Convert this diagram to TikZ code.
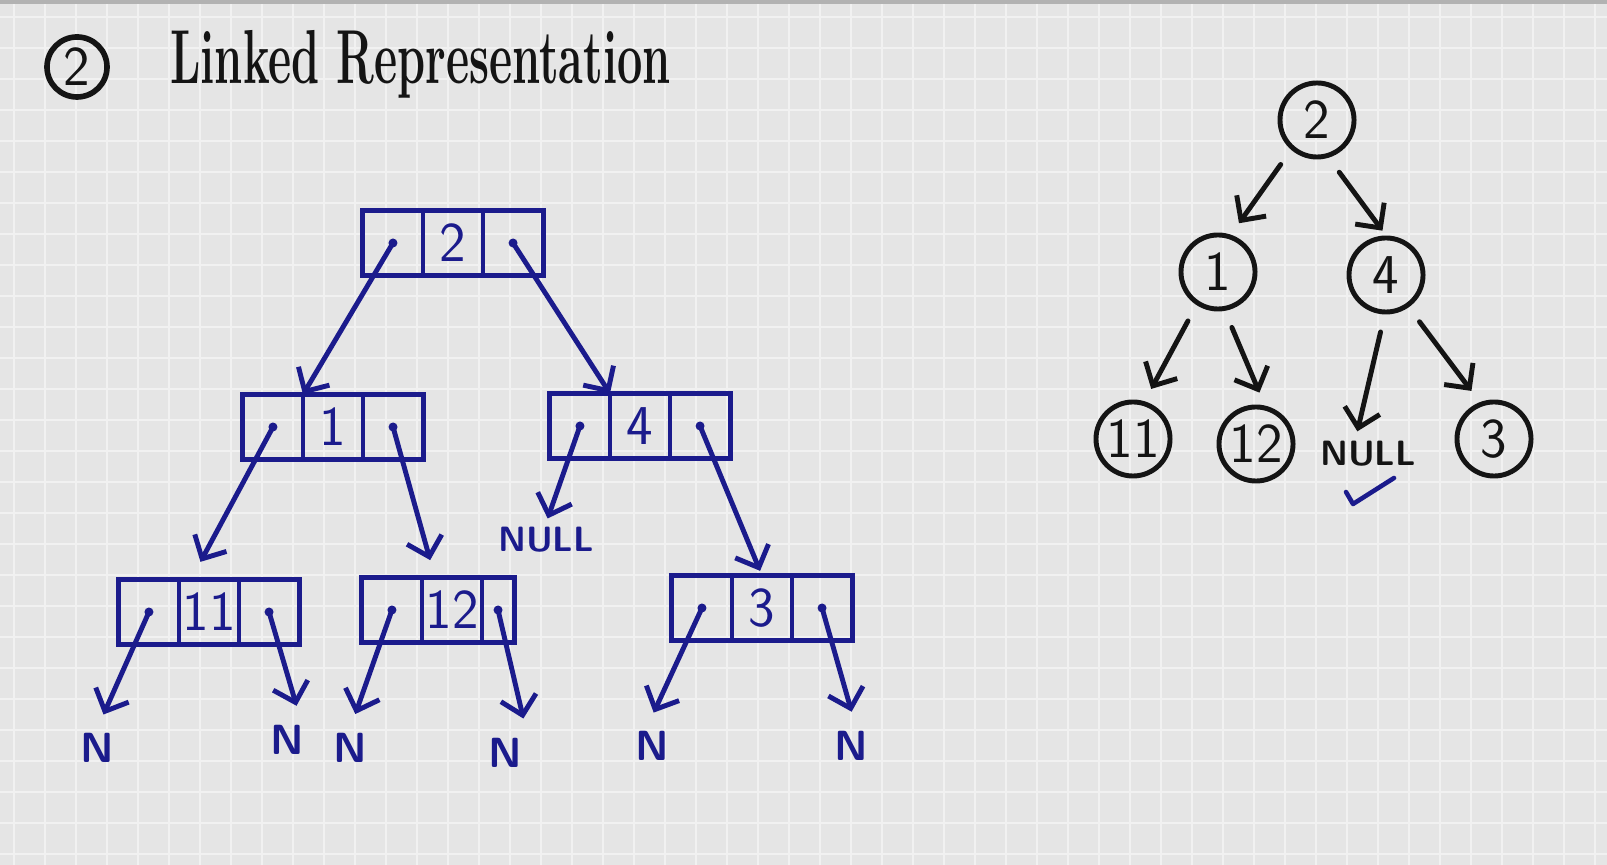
\documentclass[tikz,border=0pt]{standalone}
\usetikzlibrary{arrows.meta,positioning,calc}
\definecolor{InkBlue}{HTML}{1B1B8C}
\definecolor{InkBlack}{HTML}{141414}
\definecolor{Board}{HTML}{E5E5E5}
\definecolor{BoardLine}{HTML}{F1F1F1}
\tikzset{
  cell/.style={rectangle, draw=InkBlue, line width=1.4pt, outer sep=0pt,
               minimum width=0.6cm, minimum height=0.65cm, inner sep=0pt,
               text=InkBlue, font=\sffamily\fontsize{16}{16}\selectfont},
  ptr/.style={draw=InkBlue, line width=1.4pt, line cap=round,
              -{Straight Barb[length=1.8mm,width=3.6mm]}},
  nil/.style={text=InkBlue, font=\sffamily\bfseries\fontsize{12}{12}\selectfont, inner sep=1pt},
  pdot/.style={circle, fill=InkBlue, inner sep=0pt, minimum size=0.9mm},
  tnode/.style={circle, draw=InkBlack, line width=1.4pt, minimum size=0.74cm,
                inner sep=0pt, text=InkBlack, font=\sffamily\fontsize{16}{16}\selectfont},
  tedge/.style={draw=InkBlack, line width=1.4pt, line cap=round,
                -{Straight Barb[length=1.8mm,width=3.6mm]},
                shorten <=1.8mm, shorten >=1.4mm},
}

\begin{document}
\begin{tikzpicture}[x=0.01cm, y=-0.01cm]
% ---------- board
\useasboundingbox (0,0) rectangle (1607,865);
\fill[Board] (0,0) rectangle (1607,865);
\foreach \gx in {14,45,...,1607} \draw[BoardLine, line width=0.6pt] (\gx,0) -- (\gx,865);
\foreach \gy in {17,48,...,865} \draw[BoardLine, line width=0.6pt] (0,\gy) -- (1607,\gy);
\fill[black!30] (0,0) rectangle (1607,4);
% ---------- title
\node[tnode, minimum size=0.6cm, line width=1.6pt] (num) at (77,67) {2};
\node[anchor=west, text=InkBlack, font=\bfseries\fontsize{12.8}{12.8}\selectfont] (title) at (158,64)
  {\scalebox{1}[1.7]{Linked Representation}};
% ---------- linked nodes: left pointer | data | right pointer
\foreach \nm/\x/\y/\v/\rw in {root/453/243/2/0.6cm, n1/333/427/1/0.6cm, n4/640/426/4/0.6cm,
                              n11/209/612/11/0.6cm, n12/452/610/12/0.32cm, n3/762/608/3/0.6cm}{
  \node[cell] (\nm) at (\x,\y) {\v};
  \node[cell, left=0pt of \nm] (\nm-l) {};
  \node[cell, right=0pt of \nm, minimum width=\rw] (\nm-r) {};
  \node[pdot] at (\nm-l.center) {};
  \node[pdot] at (\nm-r.center) {};
}
% null ends
\node[nil, font=\sffamily\bfseries\fontsize{10}{10}\selectfont] (null4) at (546,540) {NULL};
\node[nil] (na) at (97,748) {N};
\node[nil] (nb) at (287,740) {N};
\node[nil] (nc) at (350,748) {N};
\node[nil] (nd) at (505,753) {N};
\node[nil] (ne) at (652,746) {N};
\node[nil] (nf) at (851,746) {N};
% links
\draw[ptr] (root-l.center) -- (n1-l.north east);
\draw[ptr] (root-r.center) -- (n4-l.north east);
\draw[ptr, shorten >=2mm] (n1-l.center) -- ([xshift=-1.8mm]n11.north);
\draw[ptr, shorten >=1.8mm] (n1-r.center) -- ([xshift=-1.7mm]n12.north);
\draw[ptr, shorten >=0.5mm] (n4-l.center) -- (null4.north);
\draw[ptr, shorten >=0.5mm] (n4-r.center) -- (n3.north);
\draw[ptr, shorten >=1.6mm] (n11-l.center) -- (na.north);
\draw[ptr, shorten >=1.6mm] (n11-r.center) -- ([xshift=1.4mm]nb.north);
\draw[ptr, shorten >=1.6mm] (n12-l.center) -- (nc.north);
\draw[ptr, shorten >=1.6mm] (n12-r.center) -- ([xshift=2.2mm]nd.north);
\draw[ptr, shorten >=1.6mm] (n3-l.center) -- ([xshift=-0.5mm]ne.north);
\draw[ptr, shorten >=1.6mm] (n3-r.center) -- ([xshift=0.5mm]nf.north);
% ---------- the same tree drawn with circles
\node[tnode] (t2) at (1317,120) {2};
\node[tnode] (t1) at (1218,272) {1};
\node[tnode] (t4) at (1386,275) {4};
\node[tnode] (t11) at (1133,439) {11};
\node[tnode] (t12) at (1256,444) {12};
\node[text=InkBlack, font=\sffamily\bfseries\fontsize{10}{10}\selectfont, inner sep=1pt] (tnull) at (1368,454) {NULL};
\node[tnode] (t3) at (1494,439) {3};
\draw[tedge] (t2.-131) -- (t1.71);
\draw[tedge, shorten >=0.6mm] (t2.-73) -- (t4.90);
\draw[tedge] (t1.-123) -- (t11.73);
\draw[tedge] (t1.-80) -- (t12.77);
\draw[tedge, shorten >=0.6mm] (t4.-92) -- ([xshift=-1.2mm]tnull.north);
\draw[tedge] (t4.-55) -- (t3.111);
% tick under NULL
\draw[InkBlue, line width=1.3pt, line cap=round, line join=round] (1346,492) -- (1353,504) -- (1394,478);
\end{tikzpicture}
\end{document}
